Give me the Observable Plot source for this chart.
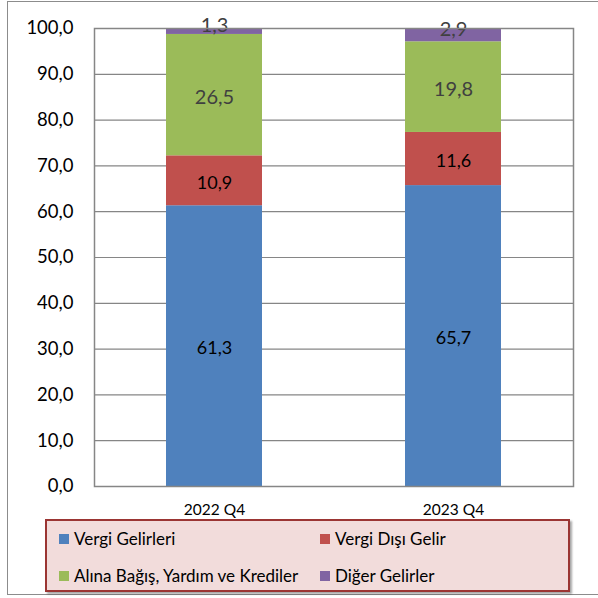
<!DOCTYPE html>
<html>
<head>
<meta charset="utf-8">
<script src="https://cdn.jsdelivr.net/npm/d3@7"></script>
<script src="https://cdn.jsdelivr.net/npm/@observablehq/plot@0.6"></script>
<style>
  html, body { margin: 0; padding: 0; background: #fff; }
  #wrap { position: relative; width: 598px; height: 598px; overflow: hidden; font-family: Lato, "Open Sans", sans-serif; }
  #border { position: absolute; left: 7px; top: 1px; width: 600px; height: 594px; border: 1.5px solid #8c8c8c; box-sizing: border-box; }
  #chart { position: absolute; left: 0; top: 0; }
  #legend { position: absolute; left: 45px; top: 519px; width: 525px; height: 73px; box-sizing: border-box;
    background: #F2DCDB; border: 2px solid #9B3533; box-shadow: 2px 2px 2px rgba(0,0,0,0.35);
    font-size: 17px; color: #000; }
  .item { position: absolute; display: flex; align-items: center; white-space: nowrap; }
  .sw { width: 10px; height: 10px; margin-right: 5px; }
</style>
</head>
<body>
<div id="wrap">
  <div id="border"></div>
  <div id="chart"></div>
  <div id="legend"></div>
</div>
<script>
const categories = ["2022 Q4", "2023 Q4"];
const series = ["Vergi Gelirleri", "Vergi Dışı Gelir", "Alına Bağış, Yardım ve Krediler", "Diğer Gelirler"];
const vergiGelirleri = [61.3, 65.7];
const vergiDisiGelir = [10.9, 11.6];
const bagisYardimKredi = [26.5, 19.8];
const digerGelirler = [1.3, 2.9];
const colors = ["#4F81BD", "#C0504D", "#9BBB59", "#8064A2"];
const yTicks = [0, 10, 20, 30, 40, 50, 60, 70, 80, 90, 100];

const seriesValues = [vergiGelirleri, vergiDisiGelir, bagisYardimKredi, digerGelirler];
const data = [];
categories.forEach((c, i) => {
  series.forEach((s, j) => data.push({cat: c, series: s, idx: j, value: seriesValues[j][i]}));
});
const fmt = v => d3.format(".1f")(v).replace(".", ",");

const chart = Plot.plot({
  width: 598,
  height: 598,
  marginLeft: 94,
  marginRight: 25,
  marginTop: 28,
  marginBottom: 112,
  style: {fontFamily: "Lato, 'Open Sans', sans-serif", background: "transparent", overflow: "visible"},
  x: {domain: categories, paddingInner: 0.6, paddingOuter: 0.3, label: null},
  y: {domain: [0, 100], label: null},
  color: {domain: series, range: colors},
  marks: [
    Plot.gridY(yTicks, {stroke: "#868686", strokeOpacity: 1, strokeWidth: 1.2}),
    Plot.barY(data, Plot.stackY({x: "cat", y: "value", fill: "series", z: "series"})),
    Plot.text(data, Plot.stackY({x: "cat", y: "value", z: "series",
      text: d => d.idx < 2 ? fmt(d.value) : "", fill: "#000", fontSize: 18, dy: 2})),
    Plot.text(data, Plot.stackY({x: "cat", y: "value", z: "series",
      text: d => d.idx === 2 ? fmt(d.value) : "", fill: "#404040", fontSize: 20, dy: 2})),
    Plot.text(data, Plot.stackY({x: "cat", y: "value", z: "series",
      text: d => d.idx === 3 ? fmt(d.value) : "", fill: "#404040", fontSize: 20, dy: -6})),
    Plot.frame({stroke: "#868686", strokeWidth: 1.5}),
    Plot.axisY({ticks: yTicks, tickFormat: fmt, tickSize: 0, tickPadding: 21, fontSize: 18.5, fill: "#000", label: null}),
    Plot.axisX({tickSize: 0, tickPadding: 17, fontSize: 15.5, fill: "#000", label: null})
  ]
});
document.getElementById("chart").appendChild(chart);

const legend = document.getElementById("legend");
const pos = [[12, 7], [273, 7], [12, 44], [273, 44]];
series.forEach((s, j) => {
  const it = document.createElement("div");
  it.className = "item";
  it.style.left = pos[j][0] + "px";
  it.style.top = pos[j][1] + "px";
  const sw = document.createElement("div");
  sw.className = "sw";
  sw.style.background = colors[j];
  const t = document.createElement("span");
  t.textContent = s;
  it.appendChild(sw); it.appendChild(t);
  legend.appendChild(it);
});
</script>
</body>
</html>
